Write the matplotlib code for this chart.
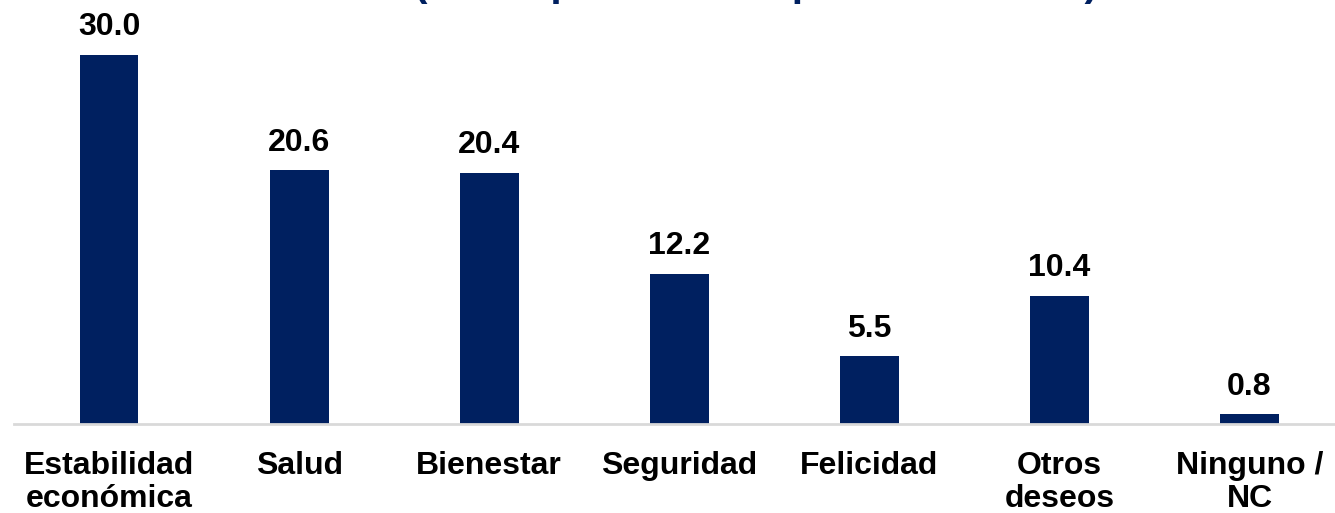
import matplotlib

matplotlib.use("Agg")
import matplotlib.pyplot as plt
import numpy as np

NAVY = "#002060"
AXIS_GREY = "#d9d9d9"

categories = [
    "Estabilidad\neconómica",
    "Salud",
    "Bienestar",
    "Seguridad",
    "Felicidad",
    "Otros\ndeseos",
    "Ninguno /\nNC",
]
values = [30.0, 20.6, 20.4, 12.2, 5.5, 10.4, 0.8]
title_text = "(En %: primeras respuestas totales)"

plt.rcParams["font.family"] = ["Liberation Sans", "DejaVu Sans"]

fig = plt.figure(figsize=(13.35, 5.13), dpi=100)
ax = fig.add_axes([14 / 1335, 89 / 513, 1 - 14 / 1335, 394 / 513])

x = np.arange(len(categories))
bars = ax.bar(x, values, width=0.31, color=NAVY, zorder=2)

for bar, v in zip(bars, values):
    ax.annotate(
        f"{v:.1f}",
        (bar.get_x() + bar.get_width() / 2, bar.get_height()),
        xytext=(0, 9),
        textcoords="offset points",
        ha="center",
        va="bottom",
        fontsize=23,
        fontweight="bold",
        color="black",
    )

ax.set_xlim(-0.5, 6.45)
ax.set_ylim(0, 32)
ax.set_xticks(x)
ax.set_xticklabels(categories, fontsize=23, fontweight="bold", linespacing=1.13)
ax.tick_params(axis="x", length=0, pad=19.5)
ax.set_yticks([])
for side in ("top", "right", "left"):
    ax.spines[side].set_visible(False)
ax.spines["bottom"].set_color(AXIS_GREY)
ax.spines["bottom"].set_linewidth(2)

# title sits above the canvas, only its descenders show (as in the source)
fig.text(0.566, 1.0 + 3.5 / 513, title_text, ha="center", va="baseline",
         fontsize=29, fontweight="bold", color=NAVY)

fig.savefig("out.png", dpi=100)
